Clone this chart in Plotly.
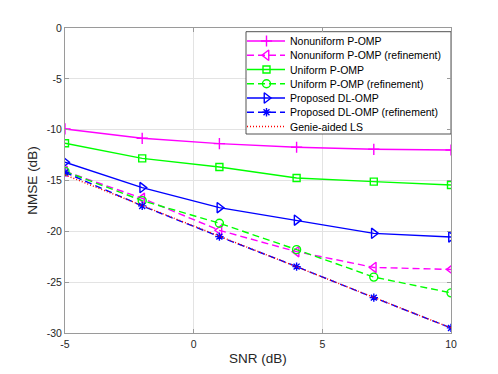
import plotly.graph_objects as go

snr = [-5, -2, 1, 4, 7, 10]

nonuniform = [-9.93, -10.85, -11.37, -11.73, -11.93, -12.0]
nonuniform_ref = [-14.1, -16.75, -19.9, -22.0, -23.55, -23.75]
uniform = [-11.34, -12.82, -13.67, -14.75, -15.11, -15.44]
uniform_ref = [-14.1, -16.98, -19.2, -21.8, -24.5, -26.05]
dl_omp = [-13.2, -15.7, -17.67, -18.9, -20.2, -20.55]
dl_omp_ref = [-14.2, -17.5, -20.52, -23.47, -26.52, -29.5]
genie_ls = [-14.45, -17.48, -20.5, -23.5, -26.5, -29.5]

x_ticks = [-5, 0, 5, 10]
x_tick_labels = ["-5", "0", "5", "10"]
y_ticks = [-30, -25, -20, -15, -10, -5, 0]
y_tick_labels = ["-30", "-25", "-20", "-15", "-10", "-5", "0"]

labels = [
    "Nonuniform P-OMP",
    "Nonuniform P-OMP (refinement)",
    "Uniform P-OMP",
    "Uniform P-OMP (refinement)",
    "Proposed DL-OMP",
    "Proposed DL-OMP (refinement)",
    "Genie-aided LS",
]

MAG = "#ff00ff"
GRN = "#00ff00"
BLU = "#0000ff"
RED = "#ff0000"
DASH = "7px,4px"
LW = 1.4

series = [
    (nonuniform, labels[0], MAG, "solid", "cross-thin-open", 8),
    (nonuniform_ref, labels[1], MAG, DASH, "triangle-left-open", 9),
    (uniform, labels[2], GRN, "solid", "square-open", 7),
    (uniform_ref, labels[3], GRN, DASH, "circle-open", 8),
    (dl_omp, labels[4], BLU, "solid", "triangle-right-open", 9),
    (dl_omp_ref, labels[5], BLU, DASH, "asterisk-open", 7),
    (genie_ls, labels[6], RED, "1px,2px", None, 0),
]

FONT = "Liberation Sans, Arial, sans-serif"

fig = go.Figure()
for ys, name, col, dash, sym, size in series:
    if sym is None:
        fig.add_trace(go.Scatter(x=snr, y=ys, name=name, mode="lines",
                                 showlegend=False,
                                 line=dict(color=col, width=LW, dash=dash)))
    else:
        fig.add_trace(go.Scatter(x=snr, y=ys, name=name, mode="lines+markers",
                                 showlegend=False,
                                 line=dict(color=col, width=LW, dash=dash),
                                 marker=dict(symbol=sym, size=size, color=col,
                                             line=dict(color=col, width=1.4))))

# ---- MATLAB-style legend box drawn on an invisible overlay axis (pixel units) ----
PW, PH = 386, 305            # plot area size in px
LEG_L, LEG_R, LEG_T, LEG_B = 181, 386, 3.7, 106
ROW0, ROW_STEP = 13, 14.25
SAMPLE_L, SAMPLE_R, SAMPLE_M, TEXT_X = 182, 220, 201.5, 223

fig.add_trace(go.Scatter(
    x=[LEG_L, LEG_R, LEG_R, LEG_L, LEG_L], y=[LEG_T, LEG_T, LEG_B, LEG_B, LEG_T],
    mode="lines", fill="toself", fillcolor="white",
    line=dict(color="#404040", width=0.9), hoverinfo="skip",
    showlegend=False, xaxis="x2", yaxis="y2"))

for i, (ys, name, col, dash, sym, size) in enumerate(series):
    ry = ROW0 + ROW_STEP * i
    fig.add_trace(go.Scatter(
        x=[SAMPLE_L, SAMPLE_R], y=[ry, ry], mode="lines",
        line=dict(color=col, width=LW, dash=dash), hoverinfo="skip",
        showlegend=False, xaxis="x2", yaxis="y2"))
    if sym is not None:
        fig.add_trace(go.Scatter(
            x=[SAMPLE_M], y=[ry], mode="markers",
            marker=dict(symbol=sym, size=size, color=col,
                        line=dict(color=col, width=1.4)),
            hoverinfo="skip", showlegend=False, xaxis="x2", yaxis="y2"))
    fig.add_annotation(x=TEXT_X, y=ry, xref="x2", yref="y2", text=name,
                       showarrow=False, xanchor="left", yanchor="middle",
                       font=dict(family=FONT, size=10.5, color="#000000"))

axis_common = dict(
    showgrid=True, gridcolor="#e3e3e3", gridwidth=1,
    showline=True, linecolor="#9a9a9a", linewidth=1, mirror="ticks",
    ticks="inside", ticklen=4, tickcolor="#9a9a9a",
    zeroline=False,
    tickfont=dict(family=FONT, size=10.5, color="#262626"),
)

fig.update_layout(
    width=490, height=366,
    margin=dict(l=57, r=47, t=20, b=41),
    paper_bgcolor="white", plot_bgcolor="white",
    font=dict(family=FONT, color="#262626"),
    showlegend=False,
    xaxis=dict(range=[-5, 10], tickmode="array", tickvals=x_ticks,
               ticktext=x_tick_labels, ticklabelstandoff=1,
               title=dict(text="SNR (dB)", font=dict(size=13.5), standoff=4),
               **axis_common),
    yaxis=dict(range=[-30, 0], tickmode="array", tickvals=y_ticks,
               ticktext=y_tick_labels,
               title=dict(text="NMSE (dB)", font=dict(size=13.5), standoff=5),
               **axis_common),
    xaxis2=dict(overlaying="x", anchor="y2", range=[0, PW], visible=False,
                fixedrange=True),
    yaxis2=dict(overlaying="y", anchor="x2", range=[PH, 0], visible=False,
                fixedrange=True),
)

fig.write_html("out.html")
